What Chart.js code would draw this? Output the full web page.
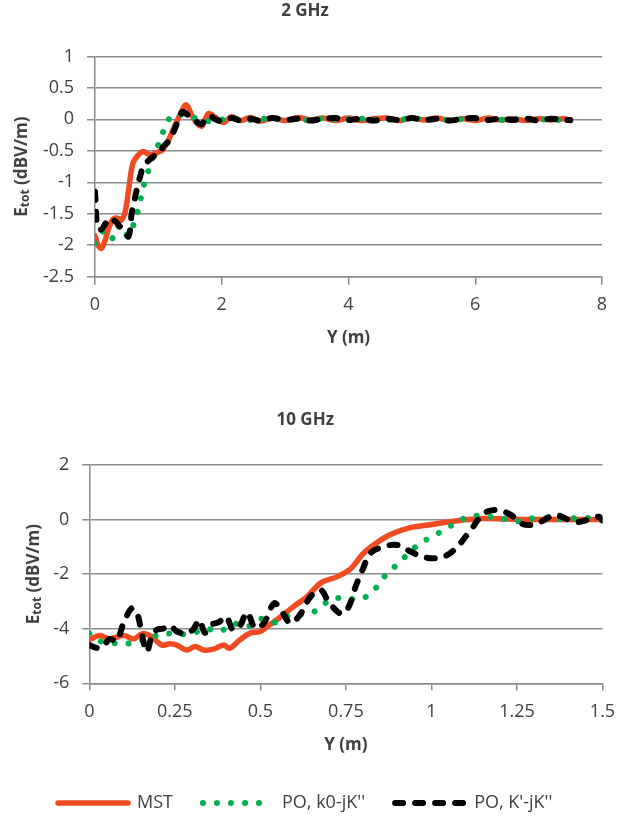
<!DOCTYPE html>
<html><head><meta charset="utf-8">
<script src="https://cdn.jsdelivr.net/npm/chart.js@4.4.0/dist/chart.umd.min.js"></script>
<style>
html,body{margin:0;padding:0;background:#fff;width:631px;height:823px;overflow:hidden}
canvas{position:absolute;left:0}
#c1{top:0}
#c2{top:395px}
</style></head><body>
<canvas id="c1" width="631" height="395"></canvas>
<canvas id="c2" width="631" height="428"></canvas>
<script>
// ---- text ----
const seriesNames = ['MST', "PO, k0-jK''", "PO, K'-jK''"];
const chartTitles = ['2 GHz', '10 GHz'];
const xTitle = 'Y (m)';
const yTitleMain = 'E', yTitleSub = 'tot', yTitleUnit = ' (dBV/m)';

// ---- tick labels ----
const xTicks2 = [0, 2, 4, 6, 8];
const yTicks2 = [-2.5, -2, -1.5, -1, -0.5, 0, 0.5, 1];
const xTicks10 = [0, 0.25, 0.5, 0.75, 1, 1.25, 1.5];
const yTicks10 = [-6, -4, -2, 0, 2];

// ---- 2 GHz data ----
const x2Mst = [0,0.05,0.1,0.16,0.22,0.29,0.36,0.42,0.48,0.53,0.6,0.68,0.76,0.83,0.9,1.0,1.07,1.15,1.23,1.33,1.44,1.55,1.68,1.79,1.9,2.03,2.15,2.3,2.45,2.6,2.8,3.0,3.2,3.4,3.6,3.8,4.0,4.2,4.4,4.6,4.8,5.0,5.2,5.4,5.6,5.8,6.0,6.2,6.4,6.6,6.8,7.0,7.2,7.4,7.5];
const y2Mst = [-1.85,-2.0,-2.05,-1.92,-1.72,-1.58,-1.57,-1.6,-1.45,-1.12,-0.69,-0.57,-0.51,-0.55,-0.56,-0.52,-0.48,-0.35,-0.17,0.05,0.23,0.02,-0.11,0.09,0.03,-0.05,0.04,-0.02,0.03,-0.03,0.02,-0.02,0.03,-0.01,0.02,-0.02,0.02,-0.02,0.01,0.02,-0.02,0.02,-0.01,0.02,-0.02,0.01,-0.02,0.02,-0.01,0.01,-0.02,0.01,-0.01,0.01,-0.02];
const x2K0 = [0,0.16,0.29,0.39,0.53,0.63,0.7,0.75,0.83,0.9,1.0,1.09,1.22,1.44,1.65,1.85,2.1,2.4,2.7,3.0,3.3,3.6,3.9,4.2,4.5,4.8,5.1,5.4,5.7,6.0,6.3,6.6,6.9,7.2,7.5];
const y2K0 = [-1.97,-1.76,-1.89,-1.68,-1.85,-1.6,-1.37,-1.12,-0.86,-0.64,-0.4,-0.165,0.06,0.06,0.0,-0.03,0.01,-0.01,0.01,0.0,-0.01,0.01,0.0,0.01,-0.01,0.0,0.01,-0.01,0.0,0.01,-0.01,0.0,0.01,-0.01,0.0];
const x2Kp = [0,0.04,0.1,0.17,0.24,0.32,0.39,0.46,0.53,0.58,0.63,0.67,0.72,0.76,0.84,0.92,1.0,1.08,1.16,1.23,1.3,1.38,1.45,1.55,1.62,1.68,1.75,1.82,1.9,2.0,2.15,2.3,2.45,2.6,2.8,3.0,3.2,3.4,3.6,3.8,4.0,4.2,4.4,4.6,4.8,5.0,5.2,5.4,5.6,5.8,6.0,6.2,6.4,6.6,6.8,7.0,7.2,7.4,7.5];
const y2Kp = [-1.15,-1.72,-1.75,-1.65,-1.57,-1.62,-1.7,-1.78,-1.86,-1.49,-1.25,-1.07,-0.88,-0.75,-0.66,-0.59,-0.55,-0.43,-0.35,-0.22,-0.05,0.12,0.08,0.0,-0.05,-0.08,0.02,0.05,0.0,-0.03,0.02,-0.02,0.01,-0.02,0.02,-0.01,0.01,-0.02,0.01,0.02,-0.01,0.01,-0.02,0.01,-0.01,0.02,-0.01,0.01,-0.02,0.01,0.02,-0.01,0.01,-0.01,0.01,-0.02,0.01,-0.01,-0.01];

// ---- 10 GHz data ----
const x10Mst = [0,0.03,0.06,0.1,0.13,0.155,0.183,0.212,0.235,0.256,0.285,0.31,0.334,0.363,0.393,0.41,0.44,0.47,0.5,0.52,0.56,0.597,0.637,0.676,0.725,0.764,0.8,0.84,0.88,0.93,1.0,1.076,1.15,1.22,1.3,1.4,1.5];
const y10Mst = [-4.4,-4.25,-4.37,-4.25,-4.37,-4.18,-4.3,-4.6,-4.55,-4.6,-4.78,-4.65,-4.78,-4.75,-4.6,-4.72,-4.41,-4.16,-4.1,-3.92,-3.56,-3.19,-2.82,-2.33,-2.09,-1.8,-1.25,-0.85,-0.55,-0.32,-0.18,-0.04,0.04,0.02,0.0,0.0,0.0];
const x10K0 = [0,0.035,0.075,0.12,0.183,0.217,0.256,0.3,0.342,0.38,0.422,0.463,0.502,0.544,0.585,0.627,0.668,0.705,0.749,0.793,0.832,0.861,0.896,0.928,0.964,1.005,1.045,1.086,1.13,1.177,1.222,1.26,1.31,1.355,1.4,1.447,1.5];
const y10K0 = [-4.17,-4.47,-4.53,-4.53,-4.31,-4.17,-4.2,-4.17,-4.0,-4.1,-3.82,-3.92,-3.64,-3.77,-3.5,-3.46,-3.31,-2.92,-2.88,-2.92,-2.58,-2.11,-1.69,-1.3,-0.9,-0.6,-0.32,-0.01,0.14,0.1,0.0,-0.06,0.08,0.02,0.03,0.07,-0.03];
const x10Kp = [0,0.015,0.035,0.06,0.08,0.1,0.124,0.14,0.152,0.168,0.183,0.197,0.215,0.235,0.256,0.285,0.305,0.322,0.338,0.358,0.38,0.4,0.42,0.44,0.461,0.485,0.51,0.54,0.56,0.588,0.615,0.647,0.676,0.696,0.715,0.738,0.758,0.78,0.8,0.822,0.861,0.9,0.939,0.97,1.008,1.046,1.076,1.115,1.154,1.193,1.232,1.262,1.29,1.32,1.36,1.4,1.42,1.46,1.49,1.5];
const y10Kp = [-4.6,-4.68,-4.7,-4.38,-4.45,-3.8,-3.25,-3.45,-4.1,-4.84,-4.25,-4.04,-4.0,-3.88,-4.1,-4.17,-4.0,-3.68,-4.15,-3.85,-3.75,-3.56,-4.04,-3.9,-3.4,-3.98,-3.8,-3.07,-3.31,-3.8,-3.5,-2.82,-2.58,-2.94,-3.25,-3.45,-3.2,-2.4,-1.8,-1.23,-0.99,-0.93,-1.17,-1.35,-1.42,-1.3,-0.99,-0.38,0.23,0.35,0.17,-0.14,-0.2,-0.08,0.17,0.0,-0.1,0.0,0.1,-0.03];

// ---- styling ----
const FONT = "'Open Sans', sans-serif";
const TXT = '#404040';
const GRID = '#8c8c8c';
const lineStyles = [
  {color: '#F04B23', width: 5.5, dash: [], order: 3},
  {color: '#00B050', width: 6, dash: [0.01, 14], order: 2},
  {color: '#000000', width: 6, dash: [8, 12], order: 1}
];

function pts(xs, ys) { return xs.map((x, i) => ({x: x, y: ys[i]})); }

function makeDatasets(sets) {
  return sets.map((s, i) => ({
    label: seriesNames[i],
    data: pts(s[0], s[1]),
    borderColor: lineStyles[i].color,
    backgroundColor: lineStyles[i].color,
    borderWidth: lineStyles[i].width,
    borderDash: lineStyles[i].dash,
    borderCapStyle: 'round',
    borderJoinStyle: 'round',
    pointRadius: 0,
    pointHoverRadius: 0,
    tension: 0.35,
    fill: false,
    order: lineStyles[i].order
  }));
}

const yTitlePlugin = {
  id: 'yTitle',
  afterDraw(chart, args, opts) {
    const ctx = chart.ctx, ca = chart.chartArea;
    const big = 'bold 17px ' + FONT, small = 'bold 12px ' + FONT;
    ctx.save();
    ctx.font = big;
    const w1 = ctx.measureText(yTitleMain).width;
    const w3 = ctx.measureText(yTitleUnit).width;
    ctx.font = small;
    const w2 = ctx.measureText(yTitleSub).width;
    const total = w1 + w2 + w3;
    ctx.translate(opts.x, (ca.top + ca.bottom) / 2);
    ctx.rotate(-Math.PI / 2);
    ctx.fillStyle = TXT;
    ctx.textBaseline = 'middle';
    ctx.textAlign = 'left';
    let x = -total / 2;
    ctx.font = big; ctx.fillText(yTitleMain, x, 0); x += w1;
    ctx.font = small; ctx.fillText(yTitleSub, x, 4); x += w2;
    ctx.font = big; ctx.fillText(yTitleUnit, x, 0);
    ctx.restore();
  }
};

function makeChart(id, sets, xT, yT, g, withLegend) {
  const tickFont = {family: FONT, size: 18};
  return new Chart(document.getElementById(id), {
    type: 'line',
    data: {datasets: makeDatasets(sets)},
    options: {
      responsive: false, animation: false, devicePixelRatio: 1,
      events: [],
      layout: {padding: {left: 8, right: g.padRight, top: 0, bottom: g.padBottom}},
      plugins: {
        title: {display: true, text: g.title, color: TXT,
          font: {family: FONT, size: 17, weight: 'bold'},
          padding: {top: g.tPadTop, bottom: g.tPadBottom}},
        legend: withLegend ? {
          display: true, position: 'bottom',
          labels: {
            usePointStyle: true, pointStyle: 'line', pointStyleWidth: 70,
            boxHeight: 18, padding: 30, color: TXT, font: {family: FONT, size: 18},
            generateLabels: chart => chart.data.datasets.map((d, i) => ({
              text: d.label, fillStyle: d.borderColor, strokeStyle: d.borderColor,
              lineWidth: d.borderWidth, lineDash: d.borderDash, lineCap: 'round',
              lineJoin: 'round', pointStyle: 'line', hidden: false,
              datasetIndex: i, fontColor: TXT
            }))
          }
        } : {display: false},
        tooltip: {enabled: false},
        yTitle: {x: g.yTitleX}
      },
      scales: {
        x: {
          type: 'linear', min: xT[0], max: xT[xT.length - 1],
          afterBuildTicks: s => { s.ticks = xT.map(v => ({value: v})); },
          afterFit: s => { s.height = g.xAxisH; },
          ticks: {callback: v => String(v), font: tickFont, color: TXT,
            padding: g.xTickPad, maxRotation: 0, autoSkip: false},
          grid: {drawOnChartArea: false, drawTicks: true, tickLength: g.tickLen,
            color: GRID, lineWidth: 1.5},
          border: {display: true, color: GRID, width: 1.5},
          title: {display: true, text: xTitle, color: TXT,
            font: {family: FONT, size: 17, weight: 'bold'},
            padding: {top: 0, bottom: g.xTitlePadBottom}}
        },
        y: {
          type: 'linear', min: yT[0], max: yT[yT.length - 1],
          afterBuildTicks: s => { s.ticks = yT.map(v => ({value: v})); },
          afterFit: s => { s.width = g.yAxisW; },
          ticks: {callback: v => String(v), font: tickFont, color: TXT,
            padding: g.yTickPad, autoSkip: false},
          grid: {drawOnChartArea: true, drawTicks: true, tickLength: g.tickLen,
            color: GRID, lineWidth: 1.5},
          border: {display: true, color: GRID, width: 1.5},
          title: {display: false}
        }
      }
    },
    plugins: [yTitlePlugin]
  });
}

makeChart('c1', [[x2Mst, y2Mst], [x2K0, y2K0], [x2Kp, y2Kp]], xTicks2, yTicks2, {
  title: chartTitles[0], padRight: 29, padBottom: 0, tPadTop: 1, tPadBottom: 35,
  xAxisH: 118.3, xTickPad: 9.5, xTitlePadBottom: 46.8, yAxisW: 87, yTickPad: 13,
  tickLen: 8, yTitleX: 22
}, false);

makeChart('c2', [[x10Mst, y10Mst], [x10K0, y10K0], [x10Kp, y10Kp]], xTicks10, yTicks10, {
  title: chartTitles[1], padRight: 28.5, padBottom: 1, tPadTop: 14.8, tPadBottom: 34.8,
  xAxisH: 80.7, xTickPad: 10.6, xTitlePadBottom: 8.8, yAxisW: 81.3, yTickPad: 13,
  tickLen: 7, yTitleX: 34
}, true);
</script></body></html>
